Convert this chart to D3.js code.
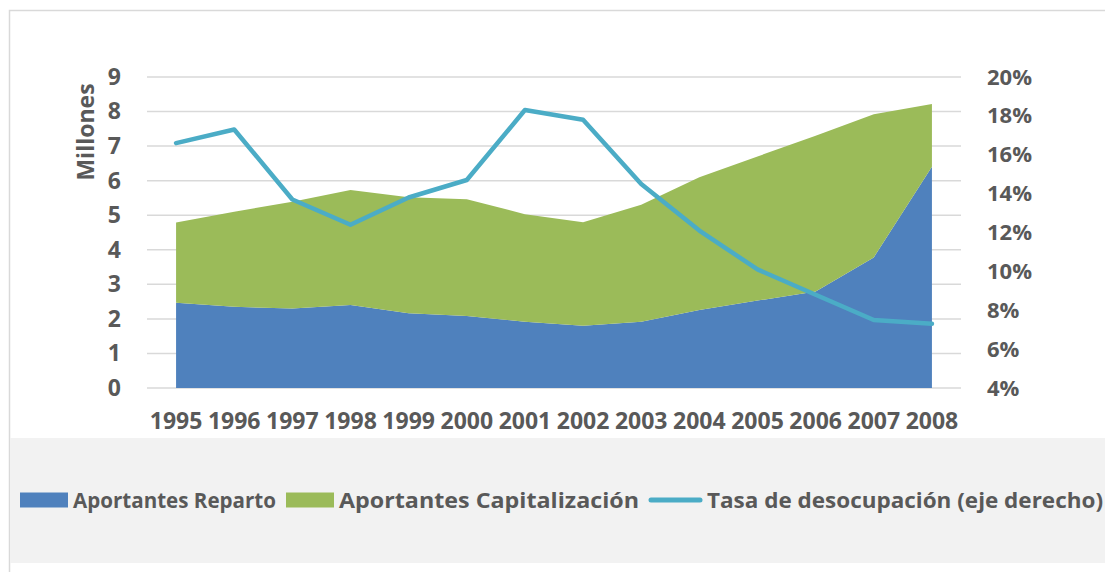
<!DOCTYPE html>
<html>
<head>
<meta charset="utf-8">
<script src="https://cdn.jsdelivr.net/npm/d3@7"></script>
<style>
  body { margin: 0; background: #fff; }
  text { font-family: "Open Sans", sans-serif; font-weight: bold; fill: #595959; }
</style>
</head>
<body>
<svg id="chart" width="1105" height="572"></svg>
<script>
// data
const years = ["1995", "1996", "1997", "1998", "1999", "2000", "2001", "2002", "2003", "2004", "2005", "2006", "2007", "2008"]
const reparto = [2.47, 2.35, 2.30, 2.40, 2.16, 2.08, 1.92, 1.80, 1.92, 2.26, 2.53, 2.79, 3.78, 6.40]
const capitalizacion = [2.32, 2.75, 3.09, 3.33, 3.36, 3.38, 3.11, 3.00, 3.38, 3.84, 4.17, 4.51, 4.14, 1.82]
const desocupacion = [16.6, 17.3, 13.7, 12.4, 13.8, 14.7, 18.3, 17.8, 14.5, 12.1, 10.1, 8.8, 7.5, 7.3]
const leftTicks = [0, 1, 2, 3, 4, 5, 6, 7, 8, 9]
const rightTicks = [4, 6, 8, 10, 12, 14, 16, 18, 20]
const seriesNames = ["Aportantes Reparto", "Aportantes Capitalización", "Tasa de desocupación (eje derecho)"]

const colors = { reparto: "#4F81BD", capital: "#9BBB59", line: "#4BACC6", grid: "#D9D9D9" }

var margin = { left: 147, right: 961, top: 77, bottom: 388 }

var svg = d3.select('#chart')

// outer frame + legend band
svg.append('rect')
    .attr('x', 9.5).attr('y', 10.5)
    .attr('width', 1110).attr('height', 580)
    .attr('fill', 'white')
    .attr('stroke', colors.grid)
    .attr('stroke-width', 1.5)

svg.append('rect')
    .attr('x', 10).attr('y', 438)
    .attr('width', 1100).attr('height', 125)
    .attr('fill', '#F2F2F2')

var x = d3.scaleBand()
    .domain(years)
    .range([margin.left, margin.right])
    .padding(0)

var cx = d => x(d) + x.bandwidth() / 2

var yLeft = d3.scaleLinear().domain([0, 9]).range([margin.bottom, margin.top])
var yRight = d3.scaleLinear().domain([4, 20]).range([margin.bottom, margin.top])

// gridlines
svg.append('g')
    .selectAll('line')
    .data(leftTicks)
    .enter()
    .append('line')
    .attr('x1', margin.left)
    .attr('x2', margin.right)
    .attr('y1', d => yLeft(d))
    .attr('y2', d => yLeft(d))
    .attr('stroke', colors.grid)
    .attr('stroke-width', 1.5)

// stacked areas
var rows = years.map((yr, i) => ({ year: yr, reparto: reparto[i], capital: capitalizacion[i] }))
var stack = d3.stack().keys(['reparto', 'capital'])(rows)

var area = d3.area()
    .x(d => cx(d.data.year))
    .y0(d => yLeft(d[0]))
    .y1(d => yLeft(d[1]))

svg.append('g')
    .selectAll('path')
    .data(stack)
    .enter()
    .append('path')
    .attr('d', area)
    .attr('fill', d => d.key == 'reparto' ? colors.reparto : colors.capital)

// unemployment line on right axis
var line = d3.line()
    .x((d, i) => cx(years[i]))
    .y(d => yRight(d))

svg.append('path')
    .datum(desocupacion)
    .attr('d', line)
    .attr('fill', 'none')
    .attr('stroke', colors.line)
    .attr('stroke-width', 4.5)
    .attr('stroke-linejoin', 'round')
    .attr('stroke-linecap', 'round')

// axes
var xAxis = svg.append('g')
    .attr('transform', 'translate(0,' + margin.bottom + ')')
    .call(d3.axisBottom(x).tickSize(0).tickPadding(25))
xAxis.select('.domain').remove()
xAxis.selectAll('text').style('font-size', '23px').attr('fill', '#595959')

var leftAxis = svg.append('g')
    .attr('transform', 'translate(' + margin.left + ',0)')
    .call(d3.axisLeft(yLeft).tickValues(leftTicks).tickSize(0).tickPadding(26))
leftAxis.select('.domain').remove()
leftAxis.selectAll('text').style('font-size', '23px').attr('fill', '#595959')

var rightAxis = svg.append('g')
    .attr('transform', 'translate(' + margin.right + ',0)')
    .call(d3.axisRight(yRight).tickValues(rightTicks).tickSize(0).tickPadding(26).tickFormat(d => d + '%'))
rightAxis.select('.domain').remove()
rightAxis.selectAll('text').style('font-size', '22px').attr('fill', '#595959')

svg.append('text')
    .attr('transform', 'translate(94,132) rotate(-90)')
    .attr('text-anchor', 'middle')
    .style('font-size', '23px')
    .text('Millones')

// legend
var legendX = [20, 286, 649]
var legendTextWidth = [203, 300, 396]
var legend = svg.append('g')
seriesNames.forEach((name, i) => {
    var g = legend.append('g').attr('transform', 'translate(' + legendX[i] + ',500)')
    if (i < 2) {
        g.append('rect')
            .attr('x', 0).attr('y', -7.5)
            .attr('width', 48).attr('height', 15)
            .attr('fill', i == 0 ? colors.reparto : colors.capital)
    } else {
        g.append('line')
            .attr('x1', 2).attr('x2', 51)
            .attr('y1', 0).attr('y2', 0)
            .attr('stroke', colors.line)
            .attr('stroke-width', 5)
            .attr('stroke-linecap', 'round')
    }
    g.append('text')
        .attr('x', i < 2 ? 53 : 58)
        .attr('y', 0)
        .attr('dy', '0.36em')
        .attr('textLength', legendTextWidth[i])
        .attr('lengthAdjust', 'spacingAndGlyphs')
        .style('font-size', '22px')
        .text(name)
})
</script>
</body>
</html>
